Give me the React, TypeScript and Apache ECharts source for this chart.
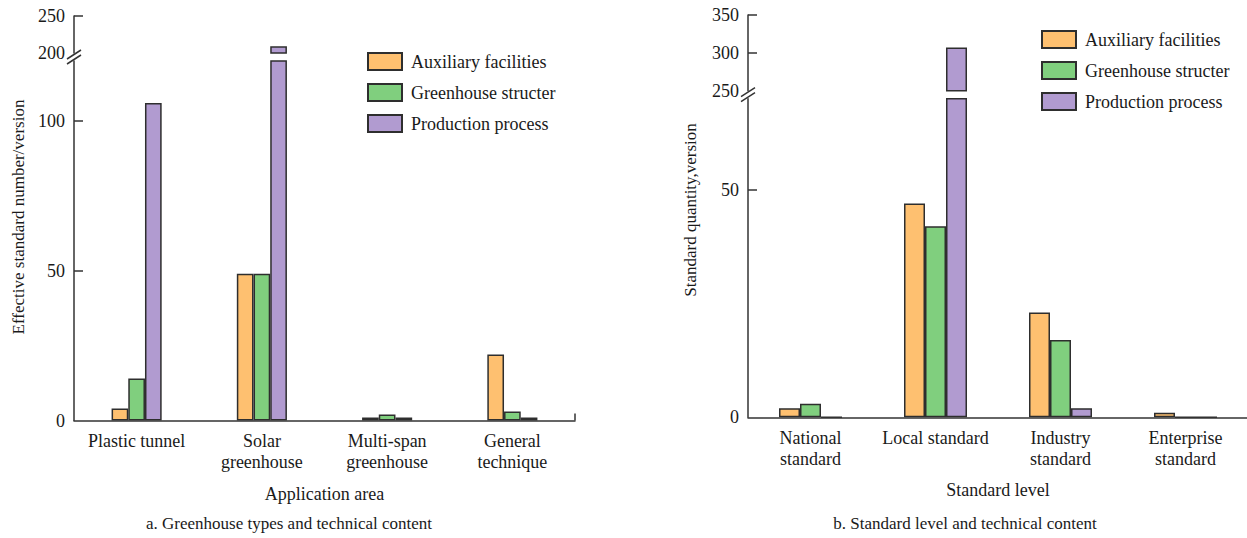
import React, { useEffect, useRef } from 'react';
import * as echarts from 'echarts';

const seriesNames = ['Auxiliary facilities', 'Greenhouse structer', 'Production process'];
const seriesColors = ['#FEC070', '#80CF7E', '#B19BD0'];

const areaCategories = ['Plastic tunnel', 'Solar\ngreenhouse', 'Multi-span\ngreenhouse', 'General\ntechnique'];
const areaAuxiliary = [4, 49, 1, 22];
const areaStructure = [14, 49, 2, 3];
const areaProduction = [106, 209, 1, 1];

const levelCategories = ['National\nstandard', 'Local standard', 'Industry\nstandard', 'Enterprise\nstandard'];
const levelAuxiliary = [2, 47, 23, 1];
const levelStructure = [3, 42, 17, 0];
const levelProduction = [0, 307, 2, 0];

const areaLowerTicks = [0, 50, 100];
const areaUpperTicks = [200, 250];
const levelLowerTicks = [0, 50];
const levelUpperTicks = [250, 300, 350];

const FONT = '"Liberation Serif", "Times New Roman", serif';
const TEXT = '#1a1a1a';
const AXIS = '#333';

export default function App() {
  const ref = useRef<HTMLDivElement>(null);

  useEffect(() => {
    document.body.style.margin = '0';
    if (!ref.current) return;
    const chart = echarts.init(ref.current, null, { renderer: 'svg' });

    const L = { x: 74, w: 501, upTop: 16, upBottom: 53, lowTop: 61, lowBottom: 420.5 };
    const R = { x: 748, w: 500, upTop: 15, upBottom: 90.7, lowTop: 98.7, lowBottom: 417.3 };

    const grids = [
      { left: L.x, top: L.upTop, width: L.w, height: L.upBottom - L.upTop, outerBoundsMode: 'none' },
      { left: L.x, top: L.lowTop, width: L.w, height: L.lowBottom - L.lowTop, outerBoundsMode: 'none' },
      { left: R.x, top: R.upTop, width: R.w, height: R.upBottom - R.upTop, outerBoundsMode: 'none' },
      { left: R.x, top: R.lowTop, width: R.w, height: R.lowBottom - R.lowTop, outerBoundsMode: 'none' },
    ];

    const hiddenX = (idx: number, data: string[]) => ({
      type: 'category', gridIndex: idx, data, show: false,
    });
    const shownX = (idx: number, data: string[], name: string) => ({
      type: 'category', gridIndex: idx, data, z: 3,
      axisLine: { lineStyle: { color: AXIS, width: 1.5 } },
      axisTick: { alignWithLabel: true, inside: true, length: 7, lineStyle: { color: AXIS, width: 1.5 } },
      axisLabel: { interval: 0, margin: 10, fontSize: 18, lineHeight: 21, color: TEXT, fontFamily: FONT },
      name, nameLocation: 'middle', nameGap: 73,
      nameTextStyle: { fontSize: 18, color: TEXT, fontFamily: FONT, verticalAlign: 'middle' },
    });
    const yAx = (idx: number, min: number, max: number, labels: number[], ticks: number[]) => ({
      type: 'value', gridIndex: idx, min, max, interval: 50, z: 3,
      splitLine: { show: false },
      axisLine: { show: true, lineStyle: { color: AXIS, width: 1.5 } },
      axisTick: { show: true, inside: true, length: 9, customValues: ticks, lineStyle: { color: AXIS, width: 1.5 } },
      axisLabel: { customValues: labels, margin: 9, fontSize: 18, color: TEXT, fontFamily: FONT },
    });

    const barSeries = (gridIdx: number, lists: number[][], width: number) =>
      lists.map((d, i) => ({
        name: seriesNames[i], type: 'bar', xAxisIndex: gridIdx, yAxisIndex: gridIdx,
        data: d, barWidth: width, barGap: '0%',
        itemStyle: { color: seriesColors[i], borderColor: '#2e2e2e', borderWidth: 1.5 },
      }));

    const areaLists = [areaAuxiliary, areaStructure, areaProduction];
    const levelLists = [levelAuxiliary, levelStructure, levelProduction];

    const legend = (left: number, top: number) => ({
      data: seriesNames, orient: 'vertical', left, top, padding: 0,
      itemWidth: 34, itemHeight: 17, itemGap: 12, selectedMode: false, icon: 'rect',
      textStyle: { fontSize: 18, color: TEXT, fontFamily: FONT, lineHeight: 17, padding: [0, 0, 0, 4] },
    });

    const slash = (cx: number, cy: number) => ({
      type: 'line', silent: true, z: 10,
      shape: { x1: cx - 7, y1: cy + 4.5, x2: cx + 7, y2: cy - 4.5 },
      style: { stroke: AXIS, lineWidth: 1.5 },
    });
    const txt = (text: string, x: number, y: number, size: number, rotation = 0) => ({
      type: 'text', x, y, rotation, silent: true,
      style: {
        text, fill: TEXT, font: `${size}px ${FONT}`,
        align: 'center', verticalAlign: 'middle', textAlign: 'center', textVerticalAlign: 'middle',
      },
    });

    chart.setOption({
      animation: false,
      grid: grids,
      xAxis: [
        hiddenX(0, areaCategories),
        shownX(1, areaCategories, 'Application area'),
        hiddenX(2, levelCategories),
        shownX(3, levelCategories, 'Standard level'),
      ],
      yAxis: [
        yAx(0, 200, 250, areaUpperTicks, [250]),
        yAx(1, 0, 120, areaLowerTicks, [50, 100]),
        yAx(2, 250, 350, levelUpperTicks, [300, 350]),
        yAx(3, 0, 70, levelLowerTicks, [50]),
      ],
      legend: [legend(367, 52), legend(1041, 30)],
      series: [
        ...barSeries(0, areaLists, 16.7),
        ...barSeries(1, areaLists, 16.7),
        ...barSeries(2, levelLists, 21),
        ...barSeries(3, levelLists, 21),
      ],
      graphic: [
        slash(L.x, L.upBottom + 1.5),
        slash(L.x, L.lowTop - 1.5),
        slash(R.x, R.upBottom + 1.5),
        slash(R.x, R.lowTop - 1.5),
        {
          type: 'line', silent: true, z: 10,
          shape: { x1: L.x + L.w, y1: L.lowBottom, x2: L.x + L.w, y2: L.lowBottom - 7 },
          style: { stroke: AXIS, lineWidth: 1.5 },
        },
        txt('Effective standard number/version', 18, 217, 17, Math.PI / 2),
        txt('Standard quantity,version', 690, 210, 17, Math.PI / 2),
        txt('a. Greenhouse types and technical content', 289, 523, 17),
        txt('b. Standard level and technical content', 965, 523, 17),
      ],
    });

    return () => chart.dispose();
  }, []);

  return <div ref={ref} style={{ width: 1247, height: 538 }} />;
}
